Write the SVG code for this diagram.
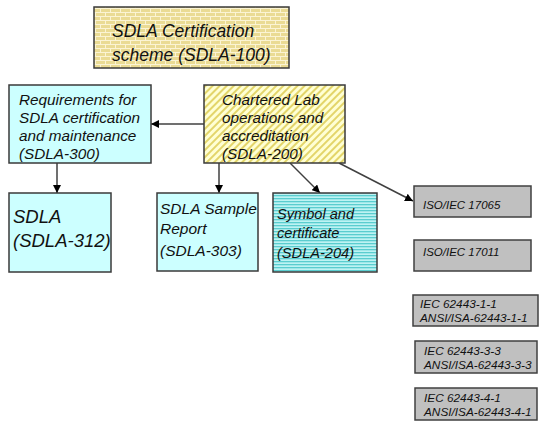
<svg xmlns="http://www.w3.org/2000/svg" width="550" height="426" viewBox="0 0 550 426">
<style>
text{font-family:"Liberation Sans",Arial,sans-serif;font-style:italic;fill:#111}
.box{stroke:#3a3a3a;stroke-width:1.5}
.cyan{fill:#CCFFFF}
.gray{fill:#C0C0C0;stroke:#404040;stroke-width:1.5}
.conn{stroke:#404040;stroke-width:1.5;fill:none;marker-end:url(#ah)}
</style>
<defs>
<marker id="ah" viewBox="0 0 10 10" refX="10" refY="5" markerWidth="8" markerHeight="8" markerUnits="userSpaceOnUse" orient="auto">
<path d="M0,0 L10,5 L0,10 z" fill="#000"/>
</marker>
<pattern id="brick" width="10" height="8" patternUnits="userSpaceOnUse">
<rect width="10" height="8" fill="#EADB94"/>
<path d="M0,0.5 H10 M0,4.5 H10 M0.5,0 V4 M5.5,4 V8" stroke="#FBF4D4" stroke-width="1"/>
</pattern>
<pattern id="diag" width="5" height="5" patternUnits="userSpaceOnUse" patternTransform="rotate(45)">
<rect width="5" height="5" fill="#FFFFD4"/>
<rect width="2" height="5" fill="#E3D56A"/>
</pattern>
<pattern id="hstripe" width="4" height="3" patternUnits="userSpaceOnUse">
<rect width="4" height="3" fill="#BDF3F3"/>
<rect width="4" height="1.3" fill="#5ACDCF"/>
</pattern>
</defs>

<g id="connectors">
<line class="conn" x1="204" y1="124" x2="151" y2="124"/>
<line class="conn" x1="57" y1="163" x2="57" y2="193"/>
<line class="conn" x1="219" y1="163" x2="219" y2="193"/>
<line class="conn" x1="290" y1="163" x2="320" y2="193"/>
<line class="conn" x1="339" y1="163" x2="413" y2="201"/>
</g>

<g id="sdla100">
<rect class="box" x="94" y="7" width="195" height="61" fill="url(#brick)"/>
<text x="112" y="37" font-size="17.5">SDLA Certification</text>
<text x="112" y="61" font-size="17.5">scheme (SDLA-100)</text>
</g>

<g id="sdla300">
<rect class="box cyan" x="9" y="85" width="142" height="78"/>
<text font-size="15.3"><tspan x="19" y="105">Requirements for</tspan><tspan x="19" y="123">SDLA certification</tspan><tspan x="19" y="141">and maintenance</tspan><tspan x="19" y="159">(SDLA-300)</tspan></text>
</g>

<g id="sdla200">
<rect class="box" x="204" y="85" width="141" height="78" fill="url(#diag)"/>
<text font-size="15.3"><tspan x="222" y="105">Chartered Lab</tspan><tspan x="222" y="123">operations and</tspan><tspan x="222" y="141">accreditation</tspan><tspan x="222" y="159">(SDLA-200)</tspan></text>
</g>

<g id="sdla312">
<rect class="box cyan" x="9" y="193" width="102" height="79"/>
<text font-size="18.5"><tspan x="13" y="223">SDLA</tspan><tspan x="13" y="247">(SDLA-312)</tspan></text>
</g>

<g id="sdla303">
<rect class="box cyan" x="157" y="193" width="101" height="78"/>
<text font-size="15.5"><tspan x="160" y="214">SDLA Sample</tspan><tspan x="160" y="234">Report</tspan><tspan x="160" y="256">(SDLA-303)</tspan></text>
</g>

<g id="sdla204">
<rect class="box" x="273" y="193" width="104" height="79" fill="url(#hstripe)"/>
<text font-size="14.6"><tspan x="277" y="219">Symbol and</tspan><tspan x="277" y="238">certificate</tspan><tspan x="277" y="258">(SDLA-204)</tspan></text>
</g>

<g id="iso17065">
<rect class="gray" x="414" y="186" width="117" height="31"/>
<text x="423" y="209" font-size="11.5">ISO/IEC 17065</text>
</g>

<g id="iso17011">
<rect class="gray" x="414" y="240" width="117" height="31"/>
<text x="423" y="256" font-size="11.5">ISO/IEC 17011</text>
</g>

<g id="iec62443-1-1">
<rect class="gray" x="413" y="295" width="125" height="31"/>
<text font-size="11.8"><tspan x="420" y="308">IEC 62443-1-1</tspan><tspan x="420" y="322">ANSI/ISA-62443-1-1</tspan></text>
</g>

<g id="iec62443-3-3">
<rect class="gray" x="415" y="341" width="122" height="32"/>
<text font-size="11.8"><tspan x="424" y="355">IEC 62443-3-3</tspan><tspan x="424" y="369">ANSI/ISA-62443-3-3</tspan></text>
</g>

<g id="iec62443-4-1">
<rect class="gray" x="415" y="388" width="122" height="32"/>
<text font-size="11.8"><tspan x="424" y="402">IEC 62443-4-1</tspan><tspan x="424" y="416">ANSI/ISA-62443-4-1</tspan></text>
</g>
</svg>
